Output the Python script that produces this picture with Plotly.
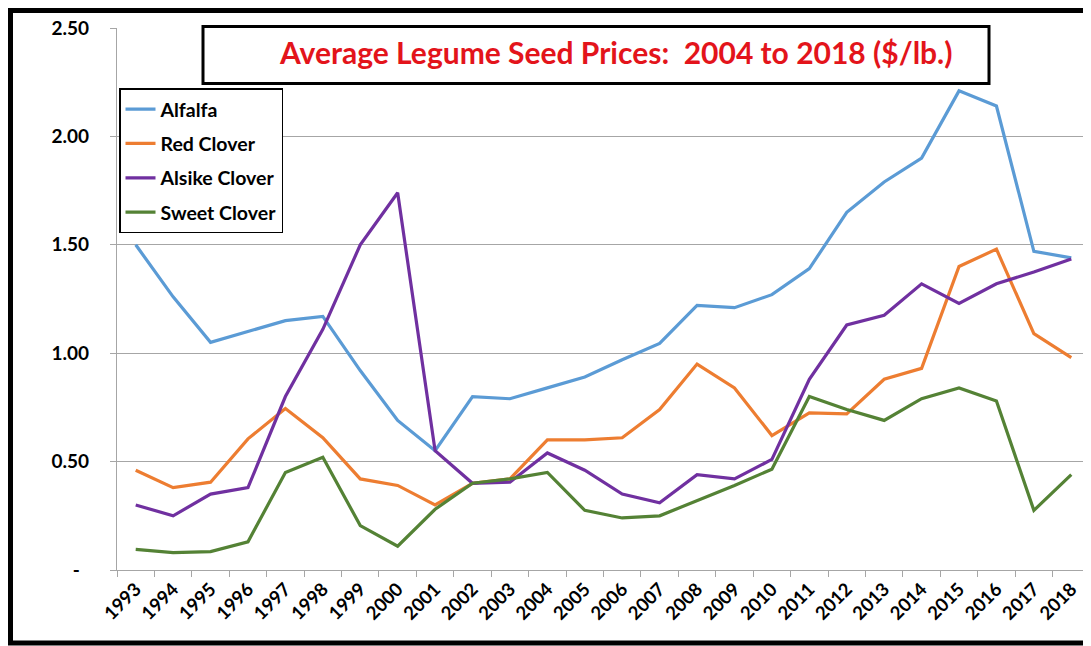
import plotly.graph_objects as go

years = [str(y) for y in range(1993, 2019)]
alfalfa = [1.50, 1.26, 1.05, 1.10, 1.15, 1.17, 0.92, 0.69, 0.55, 0.80, 0.79, 0.84, 0.89,
           0.97, 1.045, 1.22, 1.21, 1.27, 1.39, 1.65, 1.79, 1.90, 2.21, 2.14, 1.47, 1.44]
red_clover = [0.46, 0.38, 0.405, 0.605, 0.745, 0.61, 0.42, 0.39, 0.30, 0.40, 0.42, 0.60, 0.60,
              0.61, 0.74, 0.95, 0.84, 0.62, 0.725, 0.72, 0.88, 0.93, 1.40, 1.48, 1.09, 0.98]
alsike_clover = [0.30, 0.25, 0.35, 0.38, 0.80, 1.11, 1.50, 1.74, 0.55, 0.40, 0.405, 0.54, 0.46,
                 0.35, 0.31, 0.44, 0.42, 0.51, 0.88, 1.13, 1.175, 1.32, 1.23, 1.32, 1.375, 1.435]
sweet_clover = [0.095, 0.08, 0.085, 0.13, 0.45, 0.52, 0.205, 0.11, 0.28, 0.40, 0.42, 0.45, 0.275,
                0.24, 0.25, 0.32, 0.39, 0.465, 0.80, 0.74, 0.69, 0.79, 0.84, 0.78, 0.275, 0.44]

series_names = ["Alfalfa", "Red Clover", "Alsike Clover", "Sweet Clover"]
series_values = [alfalfa, red_clover, alsike_clover, sweet_clover]
series_colors = ["#5b9bd5", "#ed7d31", "#7030a0", "#548235"]

y_tickvals = [0, 0.5, 1.0, 1.5, 2.0, 2.5]
y_ticktext = ["-\u00a0\u00a0", "0.50", "1.00", "1.50", "2.00", "2.50"]
title_text = "Average Legume Seed Prices:\u00a0 2004 to 2018 ($/lb.)"

W, H = 1091, 646
OFF = 8  # page offset of the figure
L, R, T, B = 117 - OFF, 1090 - OFF, 27.5 - OFF, 570 - OFF
FONT = "Lato, 'Open Sans', sans-serif"


def px(x):
    return (x - OFF - L) / (R - L)


def py(y):
    return (B - (y - OFF)) / (B - T)


fig = go.Figure()
for i, (name, vals, col) in enumerate(zip(series_names, series_values, series_colors)):
    fig.add_trace(go.Scatter(
        x=years, y=vals, name=name, mode="lines",
        line=dict(color=col, width=3.2), legendgroup=f"g{i}",
    ))

grid = "#a6a6a6"
fig.update_layout(
    width=W, height=H,
    margin=dict(l=L, r=W - R, t=T, b=H - B, pad=0, autoexpand=False),
    paper_bgcolor="white", plot_bgcolor="white",
    font=dict(family=FONT, color="black"),
    showlegend=True,
    legend=dict(
        x=px(119), y=py(88), xanchor="left", yanchor="top",
        bgcolor="white", bordercolor="black", borderwidth=1.5,
        font=dict(family=FONT, size=19.5, color="black", weight="bold"),
        traceorder="grouped", tracegroupgap=6,
        itemwidth=30,
    ),
    xaxis=dict(
        type="category", range=[-0.5, 25.5],
        showgrid=False, showline=True, linecolor=grid, linewidth=1.2,
        ticks="outside", ticklen=6, tickcolor=grid, tickson="boundaries",
        tickangle=-45, automargin=False,
        tickfont=dict(family=FONT, size=18.5, color="black", weight="bold"),
    ),
    yaxis=dict(
        range=[0, 2.5], tickvals=y_tickvals, ticktext=y_ticktext,
        showgrid=True, gridcolor=grid, gridwidth=1.2,
        showline=True, linecolor=grid, linewidth=1.2,
        ticks="outside", ticklen=6, tickcolor=grid,
        ticklabelstandoff=17, zeroline=False, automargin=False,
        tickfont=dict(family=FONT, size=19, color="black", weight="bold"),
    ),
)

border = dict(color="black", width=5)
shapes = [
    dict(type="rect", xref="paper", yref="paper",
         x0=px(203), x1=px(989), y0=py(83), y1=py(26),
         line=dict(color="black", width=3), fillcolor="white", layer="above"),
    dict(type="line", xref="paper", yref="paper",
         x0=px(10.5), x1=px(10.5), y0=py(643), y1=py(10), line=border, layer="above"),
    dict(type="line", xref="paper", yref="paper",
         x0=px(8), x1=px(1100), y0=py(10), y1=py(10), line=border, layer="above"),
    dict(type="line", xref="paper", yref="paper",
         x0=px(8), x1=px(1100), y0=py(643), y1=py(643), line=border, layer="above"),
]
fig.update_layout(shapes=shapes)
fig.add_annotation(
    x=px(616), y=py(52), xref="paper", yref="paper", showarrow=False,
    text=title_text, xanchor="center", yanchor="middle",
    font=dict(family=FONT, size=30, color="#e3141b", weight="bold"),
)

fig.write_html("out.html")
